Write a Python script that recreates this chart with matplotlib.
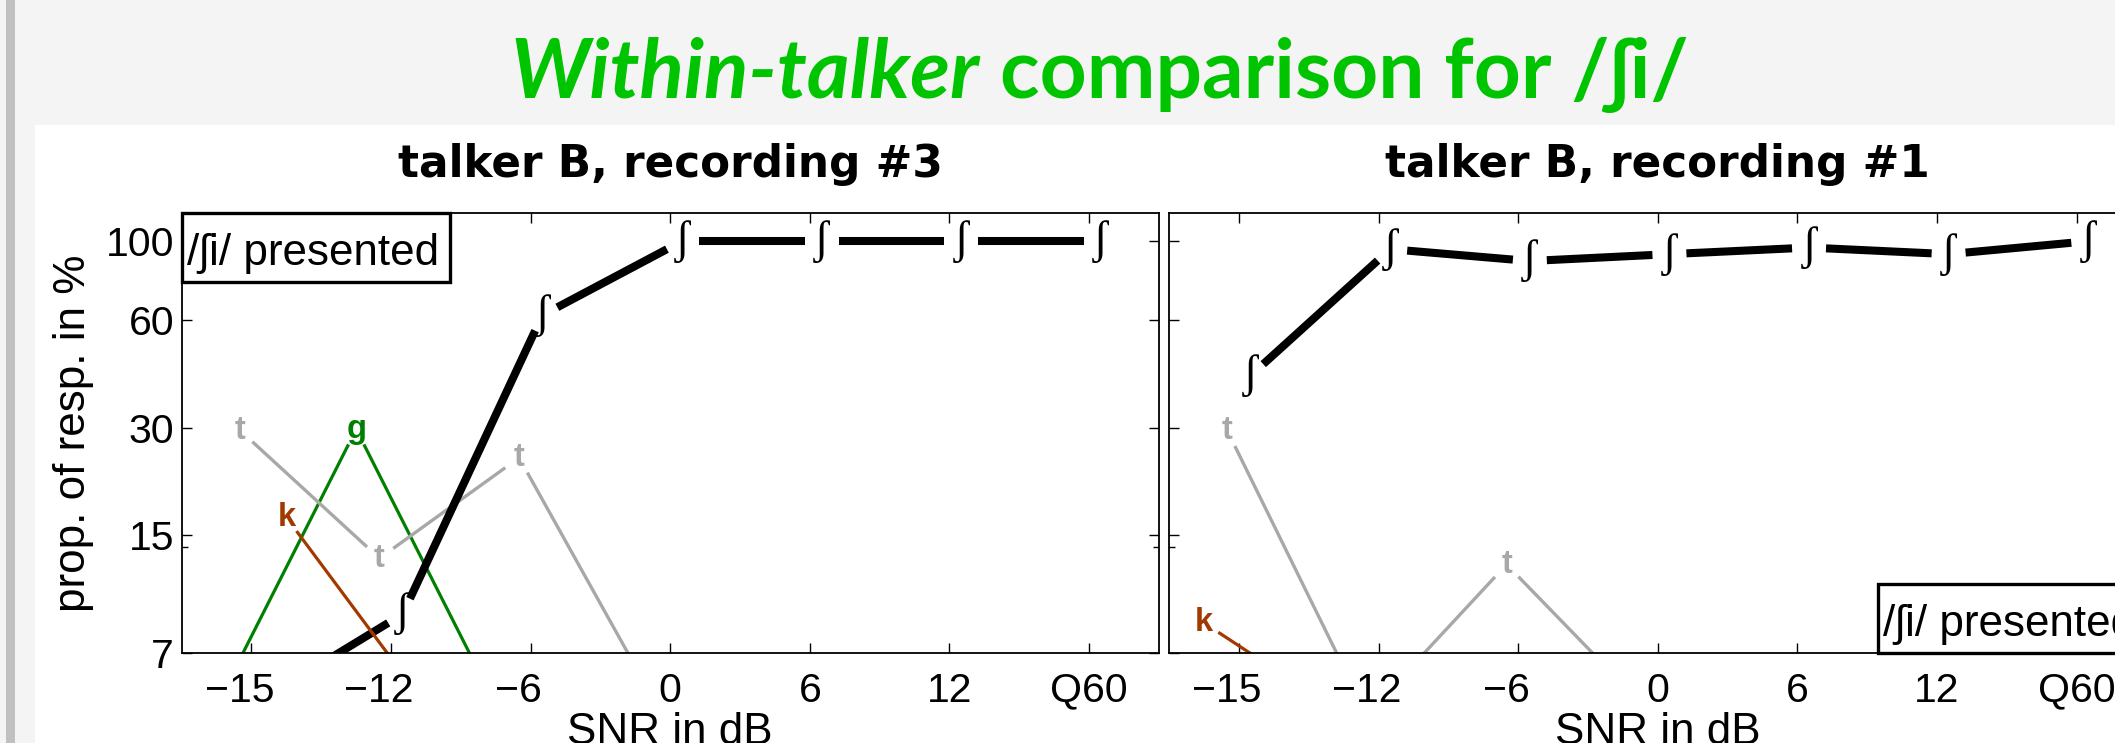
import numpy as np
import matplotlib
matplotlib.use('Agg')
import matplotlib.pyplot as plt
import matplotlib.transforms as mtransforms
from matplotlib.patches import Rectangle

W, H, DPI = 2115, 743, 100

# ---------------- data ----------------
snr_labels = ['\u221215', '\u221212', '\u22126', '0', '6', '12', 'Q60']
ytick_values = [7, 15, 30, 60, 100]

# talker B, recording #3 (left panel), % responses
rec3_sh = [5.2, 9.0, 62.0, 100.0, 100.0, 100.0, 100.0]
rec3_t = [29.5, 12.9, 24.7, 4.9, np.nan, np.nan, np.nan]
rec3_g = [5.0, 29.7, 5.0, np.nan, np.nan, np.nan, np.nan]
rec3_k = [16.8, 5.0, np.nan, np.nan, np.nan, np.nan, np.nan]

# talker B, recording #1 (right panel), % responses
rec1_sh = [42.0, 95.0, 88.0, 92.0, 96.0, 92.0, 100.0]
rec1_t = [29.4, 4.7, 12.4, 4.9, np.nan, np.nan, np.nan]
rec1_k = [8.5, 4.7, np.nan, np.nan, np.nan, np.nan, np.nan]

panel_titles = ['talker B, recording #3', 'talker B, recording #1']
main_title_it = 'Within-talker'
main_title_rest = 'comparison for /\u0283i/'
box_text = '/\u0283i/ presented'
xlabel = 'SNR in dB'
ylabel = 'prop. of resp. in %'

# ---------------- styles ----------------
SANS = ['Liberation Sans', 'DejaVu Sans']
SERIF = ['Liberation Serif', 'DejaVu Serif']
plt.rcParams['font.family'] = SANS
FS = 29.5      # tick labels
LFS = 31.7     # axis labels / box text
STY = {
    '\u0283': dict(color='black', lw=5.8, fam=SERIF, fs=33, weight='normal'),
    't': dict(color='#a8a8a8', lw=2.4, fam=SANS, fs=23.5, weight='bold'),
    'g': dict(color='#008000', lw=2.3, fam=SANS, fs=23.5, weight='bold'),
    'k': dict(color='#a03a00', lw=2.3, fam=SANS, fs=23.5, weight='bold'),
}
GAP_PX = 17
S = 139.6  # px between categories
YMIN, YMAX = 7, 120

fig = plt.figure(figsize=(W / DPI, H / DPI), dpi=DPI)
fig.patch.set_facecolor('#f4f4f4')
fig.add_artist(Rectangle((35 / W, 0), 1, 1 - 125 / H, transform=fig.transFigure,
                         facecolor='white', edgecolor='none', zorder=0))
fig.add_artist(Rectangle((6 / W, 0), 9 / W, 1, transform=fig.transFigure,
                         facecolor='#c0c0c0', edgecolor='none', zorder=0))

AX_W, AX_H = 7 * S, 440.0


def ax_rect(first_tick_px):
    x0 = first_tick_px - 0.5 * S
    return [x0 / W, 1 - 653 / H, AX_W / W, AX_H / H]


axL = fig.add_axes(ax_rect(251.5))
axR = fig.add_axes(ax_rect(1239.0))

for ax in (axL, axR):
    ax.set_yscale('log')
    ax.set_xlim(-0.5, 6.5)
    ax.set_ylim(YMIN, YMAX)
    ax.set_xticks(range(len(snr_labels)))
    ax.set_xticklabels(snr_labels)
    ax.set_yticks(ytick_values)
    ax.set_yticklabels([str(v) for v in ytick_values])
    ax.yaxis.set_minor_locator(matplotlib.ticker.FixedLocator([13.9]))
    ax.yaxis.set_minor_formatter(matplotlib.ticker.NullFormatter())
    ax.xaxis.set_minor_locator(matplotlib.ticker.NullLocator())
    ax.tick_params(which='major', direction='in', length=7, width=1.0, top=True, right=True,
                   labelsize=FS, colors='black')
    ax.tick_params(axis='x', pad=13.5)
    ax.tick_params(axis='y', pad=5.5)
    ax.tick_params(which='minor', direction='in', length=4, width=1.0, left=True, right=True)
    for sp in ax.spines.values():
        sp.set_linewidth(1.3)
    ax.set_xlabel(xlabel, fontsize=LFS)
    ax.xaxis.set_label_coords(0.5, -(712.5 - 653) / AX_H)

axR.tick_params(axis='y', labelleft=False)
axL.set_ylabel(ylabel, fontsize=LFS)
axL.yaxis.set_label_coords((94 - 181.7) / AX_W, 0.5)

# shift negative labels so that the digits are centred on the tick (minus hangs left)
for ax in (axL, axR):
    for lbl in ax.get_xticklabels():
        if lbl.get_text().startswith('\u2212'):
            lbl.set_transform(lbl.get_transform() +
                              mtransforms.ScaledTranslation(-12 / DPI, 0, fig.dpi_scale_trans))


def draw_series(ax, vals, off, phone):
    st = STY[phone]
    xs = np.arange(len(vals)) + off
    ys = np.asarray(vals, float)
    T = ax.transData
    Ti = T.inverted()
    for i in range(len(xs) - 1):
        if not (np.isfinite(ys[i]) and np.isfinite(ys[i + 1])):
            continue
        p0 = T.transform((xs[i], ys[i]))
        p1 = T.transform((xs[i + 1], ys[i + 1]))
        d = p1 - p0
        L = np.hypot(*d)
        if L <= 2 * GAP_PX:
            continue
        u = d / L
        q0 = Ti.transform(p0 + u * GAP_PX)
        q1 = Ti.transform(p1 - u * GAP_PX)
        ax.plot([q0[0], q1[0]], [q0[1], q1[1]], color=st['color'], lw=st['lw'],
                solid_capstyle='butt', zorder=2)
    for x, y in zip(xs, ys):
        if np.isfinite(y) and YMIN <= y <= YMAX:
            ax.text(x, y, phone, color=st['color'], fontsize=st['fs'], family=st['fam'],
                    fontweight=st['weight'], ha='center', va='center', clip_on=True, zorder=3)


draw_series(axL, rec3_g, -0.25, 'g')
draw_series(axL, rec3_t, -1 / 12, 't')
draw_series(axL, rec3_sh, 1 / 12, '\u0283')
draw_series(axL, rec3_k, 0.25, 'k')

draw_series(axR, rec1_k, -0.25, 'k')
draw_series(axR, rec1_t, -1 / 12, 't')
draw_series(axR, rec1_sh, 1 / 12, '\u0283')

# "/ʃi/ presented" boxes
BOX_W, BOX_H = 268.0, 69.0
for ax, corner in ((axL, 'ul'), (axR, 'lr')):
    if corner == 'ul':
        bx0, by0 = 0.0, 1 - BOX_H / AX_H
    else:
        bx0, by0 = 1 - BOX_W / AX_W, 0.0
    ax.add_patch(Rectangle((bx0, by0), BOX_W / AX_W, BOX_H / AX_H, transform=ax.transAxes,
                           facecolor='white', edgecolor='black', lw=2.4, zorder=5,
                           clip_on=False))
    ax.text(bx0 + 5 / AX_W, by0 + 17 / AX_H, box_text, transform=ax.transAxes,
            fontsize=LFS, family=SANS, ha='left', va='baseline', zorder=6, clip_on=False)

# panel titles
for ax, ttl in zip((axL, axR), panel_titles):
    pos = ax.get_position()
    fig.text(pos.x0 + pos.width / 2, 1 - 177 / H, ttl, fontsize=31.5, fontweight='bold',
             ha='center', va='baseline', family=['DejaVu Sans'])

# main title (italic part + upright part)
GREEN = '#00c400'
TFAM = ['Lato', 'DejaVu Sans']
TS = 59
r = fig.canvas.get_renderer()
t1 = fig.text(0, 1 - 98 / H, main_title_it, fontsize=TS, fontweight='bold', fontstyle='italic',
              color=GREEN, family=TFAM, ha='left', va='baseline')
t2 = fig.text(0, 1 - 98 / H, main_title_rest, fontsize=TS, fontweight='bold',
              color=GREEN, family=TFAM, ha='left', va='baseline')
w1 = t1.get_window_extent(r).width
w2 = t2.get_window_extent(r).width
gap = 0.25 * TS * DPI / 72
x0 = 1100 - (w1 + gap + w2) / 2
t1.set_x(x0 / W)
t2.set_x((x0 + w1 + gap) / W)

fig.savefig('out.png', dpi=DPI, facecolor=fig.get_facecolor())
